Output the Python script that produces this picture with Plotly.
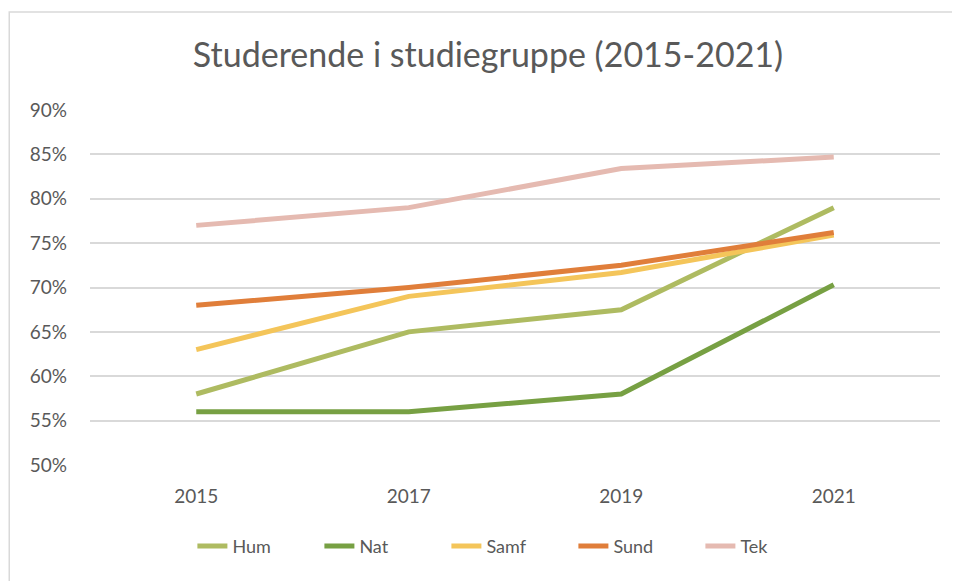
import plotly.graph_objects as go

years = ["2015", "2017", "2019", "2021"]

hum = [0.58, 0.65, 0.675, 0.79]
nat = [0.56, 0.56, 0.58, 0.703]
samf = [0.63, 0.69, 0.717, 0.759]
sund = [0.68, 0.70, 0.725, 0.762]
tek = [0.77, 0.79, 0.834, 0.847]

series = [
    ("Hum", hum, "#AEBB61"),
    ("Nat", nat, "#77A043"),
    ("Samf", samf, "#F4C55A"),
    ("Sund", sund, "#E07E3A"),
    ("Tek", tek, "#E5BAB1"),
]

fig = go.Figure()
for name, vals, color in series:
    fig.add_trace(
        go.Scatter(
            x=years,
            y=vals,
            mode="lines",
            name=name,
            line=dict(color=color, width=5),
        )
    )

# chart border (only left/top edges visible in the crop)
fig.add_shape(
    type="rect",
    xref="paper",
    yref="paper",
    x0=-0.095,
    x1=1.2,
    y0=-0.6,
    y1=1.276,
    line=dict(color="#D9D9D9", width=1.5),
    layer="below",
)

# page body adds an 8px margin, so margins are offset to compensate
fig.update_layout(
    width=960,
    height=581,
    margin=dict(l=82, r=28, t=102, b=124),
    paper_bgcolor="white",
    plot_bgcolor="white",
    font=dict(family="Lato, Open Sans, sans-serif", color="#595959", size=19),
    title=dict(
        text="Studerende i studiegruppe (2015-2021)",
        x=0.5,
        xanchor="center",
        y=0.919,
        yanchor="middle",
        font=dict(size=34, color="#595959"),
    ),
    xaxis=dict(
        type="category",
        range=[-0.5, 3.5],
        showgrid=False,
        showline=False,
        zeroline=False,
        ticks="",
        ticklabelstandoff=18,
        tickfont=dict(size=19),
    ),
    yaxis=dict(
        range=[0.5, 0.9],
        dtick=0.05,
        tickformat=".0%",
        showgrid=True,
        gridcolor="#D9D9D9",
        gridwidth=1.5,
        zeroline=False,
        showline=False,
        ticklabelstandoff=22,
        tickfont=dict(size=19),
    ),
    legend=dict(
        orientation="h",
        x=0.494,
        xanchor="center",
        y=-0.229,
        yanchor="middle",
        font=dict(size=18),
        entrywidth=82,
        entrywidthmode="pixels",
    ),
)

fig.write_html("out.html")
